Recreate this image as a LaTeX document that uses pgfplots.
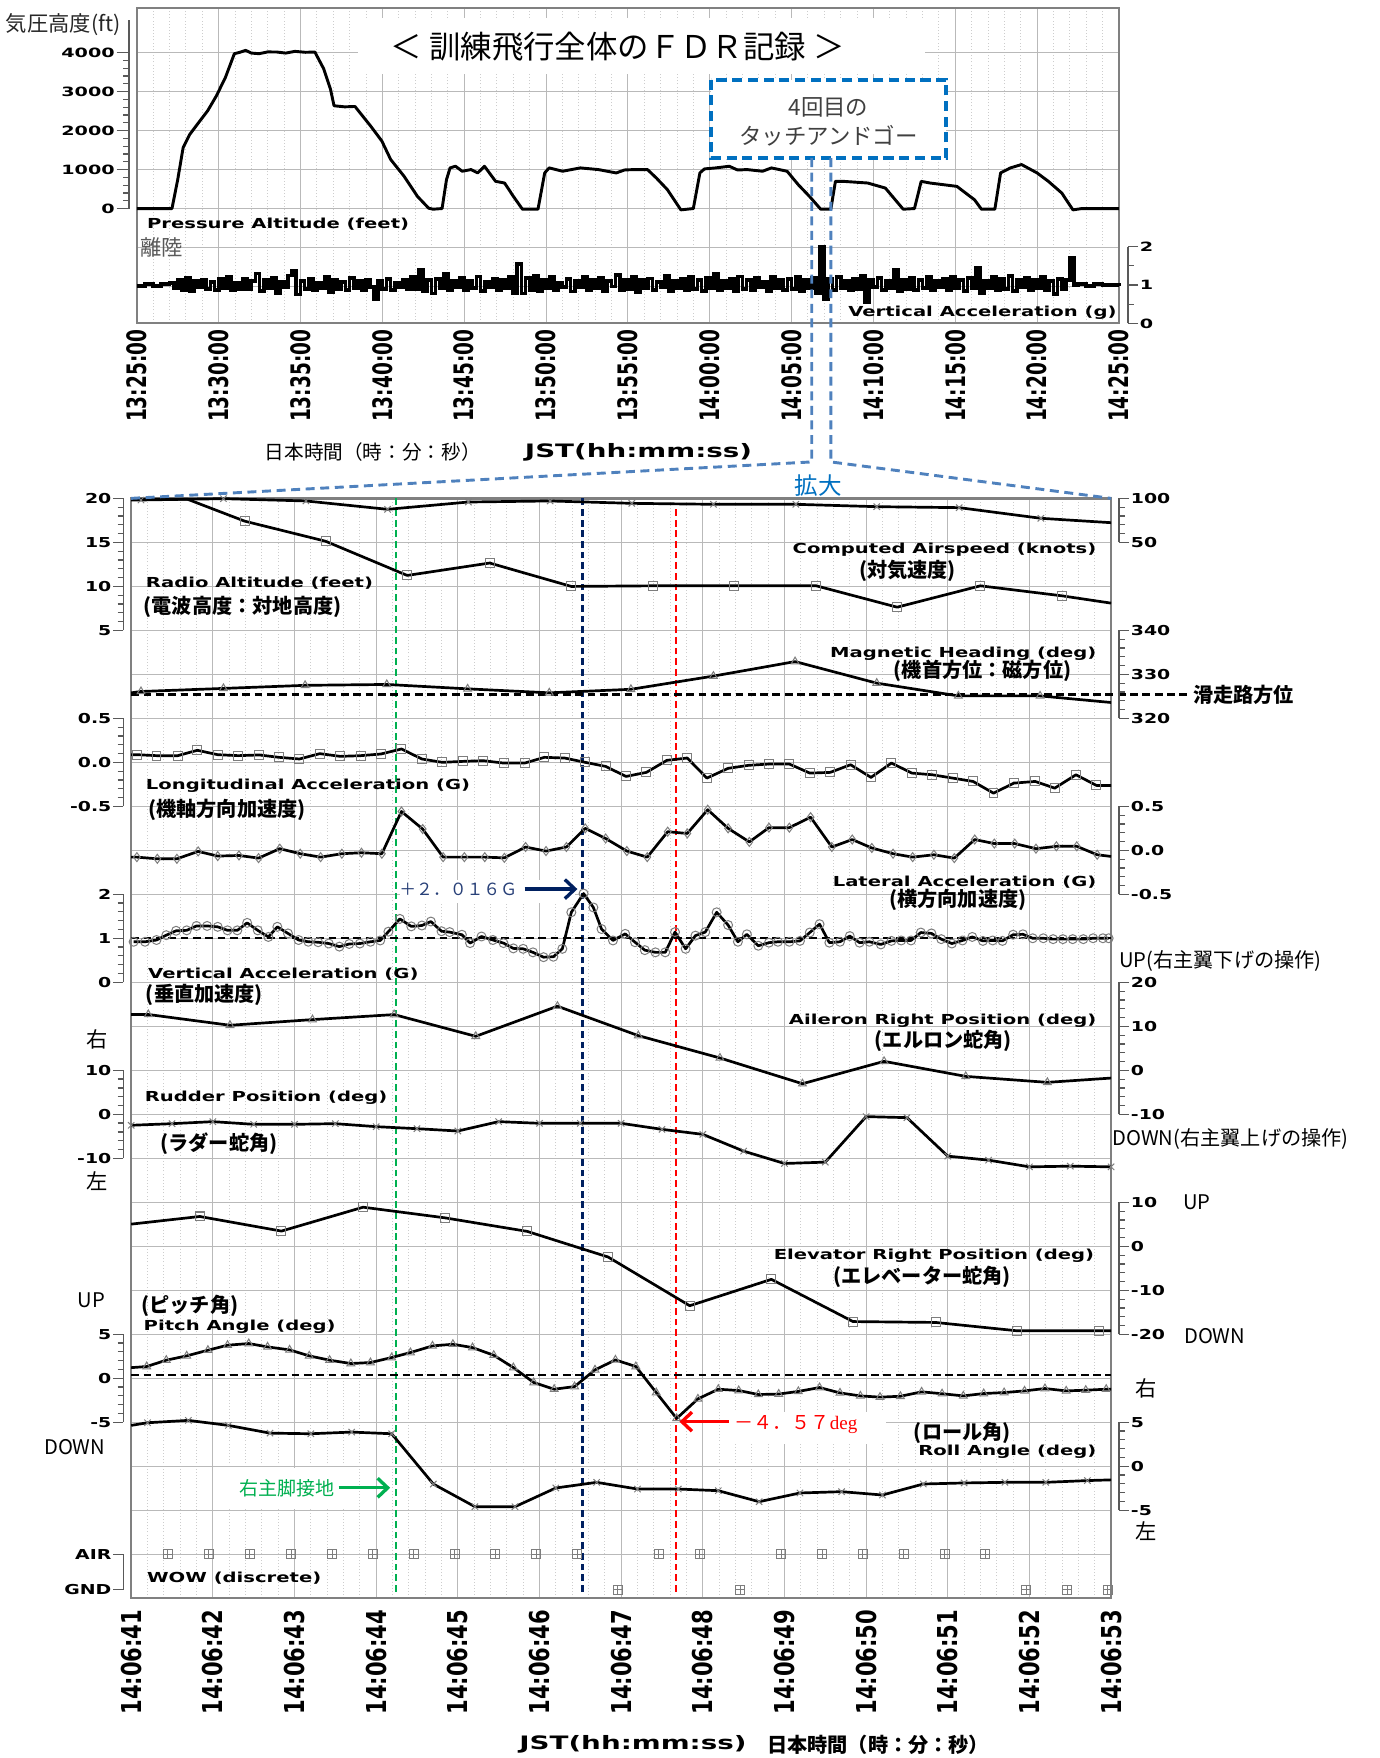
\documentclass[border=0pt]{standalone}
\usepackage{graphicx}
\usepackage{fontspec}
\usepackage{pgfplots}
\pgfplotsset{compat=1.18}
\usetikzlibrary{arrows.meta,plotmarks}
\setmainfont{DejaVu Sans}
\newfontfamily\jp{Noto Sans CJK JP}
\newfontfamily\sr{Liberation Serif}

\definecolor{framec}{RGB}{128,128,128}
\definecolor{gridc}{RGB}{185,185,185}
\definecolor{mgridc}{RGB}{205,205,205}
\definecolor{boxblue}{RGB}{0,112,192}
\definecolor{linkblue}{RGB}{79,129,189}
\definecolor{navyc}{RGB}{0,32,96}
\definecolor{navyt}{RGB}{40,64,120}
\definecolor{grnc}{RGB}{0,176,80}
\definecolor{redc}{RGB}{255,0,0}
\definecolor{mkc}{RGB}{125,125,125}

\newcommand\X[1]{\scalebox{1.42}[1]{#1}}
\newcommand\XT[1]{\scalebox{1.38}[1]{#1}}
\newcommand\XU[1]{\scalebox{1.5}[1]{#1}}
\newcommand\Yt[1]{\scalebox{1}[1.45]{#1}}
\newcommand\Yb[1]{\scalebox{1}[1.3]{#1}}
\newcommand\lbl{\fontsize{12.3}{14}\selectfont\bfseries}
\newcommand\tickf{\fontsize{12.2}{14}\selectfont\bfseries}
\newcommand\ttickf{\fontsize{11.4}{13}\selectfont\bfseries}
\newcommand\ttf{\fontsize{16.5}{18}\selectfont\bfseries}
\newcommand\btf{\fontsize{18.8}{20}\selectfont\bfseries}
\newcommand\axf{\fontsize{16.5}{18}\selectfont\bfseries}
\newcommand\JB{\jp\bfseries\fontsize{18}{20}\selectfont}
\newcommand\JR{\jp\fontsize{18}{20}\selectfont}

\pgfplotsset{
  every axis/.append style={/pgf/number format/assume math mode=true,/pgf/number format/1000 sep={}},
  brk/.style={scale only axis, width=1pt, xmin=0, xmax=1, axis x line=none, xtick=\empty,
    tick align=outside, major tick length=9pt, minor tick length=5pt, clip=false,
    y axis line style={line width=1.1pt, black!65},
    tick style={line width=1.1pt, black!65},
    yticklabel style={font=\tickf, inner sep=1.5pt},
    yticklabel={\XT{\pgfmathprintnumber{\tick}}}},
  brkL/.style={brk, axis y line*=left, anchor=south west},
  brkR/.style={brk, axis y line*=right, anchor=south east},
  ser/.style={scale only axis, width=874pt, xmin=0, xmax=12, hide axis, clip=false, anchor=south west},
  sline/.style={black, line width=2.4pt, line join=round},
  smark/.style={mark options={solid, draw=mkc, fill=none, line width=0.9pt}, mark size=4pt},
}

\begin{document}
\begin{tikzpicture}
\useasboundingbox (0pt,0pt) rectangle (1230pt,-1568pt);

% ================= TOP PANEL =================
\begin{axis}[at={(122pt,-288pt)}, anchor=south west, scale only axis, width=876pt, height=281pt,
  xmin=0, xmax=60, ymin=-2935, ymax=5151,
  xtick={0,5,...,60}, minor x tick num=4,
  ytick={-2000,-1000,0,1000,2000,3000,4000}, yticklabels={},
  grid=both, major grid style={gridc, line width=0.9pt}, minor grid style={mgridc, line width=0.8pt, dotted},
  major tick length=0pt, minor tick length=0pt,
  axis line style={framec, line width=2pt},
  xticklabels={{\Yt{13:25:00}},{\Yt{13:30:00}},{\Yt{13:35:00}},{\Yt{13:40:00}},{\Yt{13:45:00}},{\Yt{13:50:00}},{\Yt{13:55:00}},{\Yt{14:00:00}},{\Yt{14:05:00}},{\Yt{14:10:00}},{\Yt{14:15:00}},{\Yt{14:20:00}},{\Yt{14:25:00}}},
  xticklabel style={rotate=90, anchor=east, font=\ttf, inner sep=1pt}, xticklabel shift=5pt]
\addplot[black, line width=2.6pt, line join=round] coordinates {
(0,0)(2.15,0)(2.5,740)(2.83,1560)(3.24,1905)(3.78,2207)(4.33,2509)(4.87,2897)(5.42,3370)(5.96,3974)
(6.3,4010)(6.65,4060)(7.0,3990)(7.47,3974)(8.0,4020)(8.55,4017)(9.1,3990)(9.66,4034)(10.3,4010)(10.88,4017)
(11.42,3586)(11.83,3069)(12.05,2638)(12.7,2610)(13.33,2620)(14.28,2120)(14.97,1733)(15.51,1259)(16.33,828)
(17.15,310)(17.83,9)(18.1,-17)(18.65,0)(18.92,741)(19.14,1043)(19.47,1086)(19.88,957)(20.42,1000)(20.83,914)
(21.24,1086)(21.92,698)(22.47,655)(23.01,310)(23.56,-17)(24.51,-17)(24.92,914)(25.19,1043)(26.01,957)
(27.1,1043)(28.2,1000)(28.7,960)(29.29,914)(29.8,990)(30.38,1000)(31.2,1000)(31.74,784)(32.42,483)(33.24,-34)
(34.0,0)(34.4,914)(34.68,1017)(35.37,1043)(36.19,1086)(36.7,990)(37.28,1000)(38.23,957)(38.77,1043)(39.73,957)
(40.41,612)(41.1,310)(41.78,-17)(42.4,-17)(42.68,698)(43.15,698)(44.65,655)(45.73,526)(46.82,-17)(47.51,0)
(47.92,698)(48.46,655)(50.1,569)(51.18,224)(51.6,-17)(52.42,-17)(52.77,914)(53.37,1043)(54.05,1129)(55.0,914)
(55.69,698)(56.51,397)(57.19,-34)(57.74,0)(60,0)};
\end{axis}

\begin{scope}[x=1pt,y=-1pt, every node/.style={inner sep=0pt}]
\fill[white] (319,16) rectangle (825,66);
\node at (551,42) {\jp\fontsize{28}{30}\selectfont ＜ 訓練飛行全体のＦＤＲ記録 ＞};
\draw[boxblue, line width=3.5pt, dash pattern=on 9pt off 5pt, fill=white] (634,71) rectangle (844,141);
\node[text=black!75] at (739,96) {\jp\fontsize{20}{22}\selectfont 4回目の};
\node[text=black!75] at (739,121) {\jp\fontsize{20}{22}\selectfont タッチアンドゴー};
\end{scope}

% top vertical acceleration (noisy)
\begin{axis}[scale only axis, width=876pt, height=68.4pt, at={(122pt,-288.4pt)}, anchor=south west,
  xmin=0, xmax=60, ymin=0, ymax=2, hide axis, clip=false]
\addplot[const plot, black, line width=3.4pt] coordinates {
(0,0.98)(0.5,1.02)(1.0,0.97)(1.5,1.03)
(2.0,1.05)(2.25,0.92)(2.5,1.12)(2.75,0.88)(3.0,1.18)(3.25,0.85)(3.5,1.10)(3.75,0.95)(4.0,1.14)(4.25,0.90)
(4.5,1.08)(4.75,0.87)(5.0,1.15)(5.25,0.93)(5.5,1.22)(5.75,0.86)(6.0,1.06)(6.25,0.90)(6.5,1.16)(6.75,0.89)
(7.0,1.10)(7.25,1.30)(7.5,0.84)(7.75,1.12)(8.0,0.92)(8.25,1.18)(8.5,0.80)(8.75,1.08)(9.0,0.95)(9.25,1.25)
(9.5,1.38)(9.75,0.75)(10.0,1.10)(10.25,0.90)(10.5,1.15)(10.75,0.88)(11.0,1.05)(11.25,0.93)(11.5,1.20)(11.75,0.82)
(12.0,1.12)(12.25,0.90)(12.5,1.08)(12.75,0.86)(13.0,1.18)(13.25,0.92)(13.5,1.10)(13.75,0.88)(14.0,1.14)(14.25,0.95)
(14.5,0.62)(14.75,1.10)(15.0,0.90)(15.25,1.16)(15.5,0.87)(15.75,1.05)(16.0,0.94)(16.25,1.12)(16.5,0.89)(16.75,1.20)
(17.0,0.90)(17.25,1.40)(17.5,0.85)(17.75,1.12)(18.0,0.78)(18.25,1.15)(18.5,0.92)(18.75,1.28)(19.0,0.88)(19.25,1.10)
(19.5,0.95)(19.75,1.18)(20.0,0.86)(20.25,1.10)(20.5,0.92)(20.75,1.22)(21.0,0.84)(21.25,1.08)(21.5,0.94)(21.75,1.15)
(22.0,0.88)(22.25,1.12)(22.5,0.93)(22.75,1.20)(23.0,0.80)(23.25,1.55)(23.5,0.78)(23.75,1.18)(24.0,0.86)(24.25,1.24)
(24.5,0.85)(24.75,1.12)(25.0,0.92)(25.25,1.20)(25.5,0.88)(25.75,1.06)(26.0,0.95)(26.25,1.16)(26.5,0.83)(26.75,1.10)
(27.0,0.94)(27.25,1.22)(27.5,0.87)(27.75,1.12)(28.0,0.91)(28.25,1.18)(28.5,0.84)(28.75,1.10)(29.0,0.96)(29.25,1.26)
(29.5,0.86)(29.75,1.14)(30.0,0.90)(30.25,1.20)(30.5,0.82)(30.75,1.12)(31.0,0.93)(31.25,1.17)(31.5,0.88)(31.75,1.08)
(32.0,0.95)(32.25,1.24)(32.5,0.85)(32.75,1.10)(33.0,0.92)(33.25,1.15)(33.5,0.87)(33.75,1.20)(34.0,0.90)(34.25,1.13)
(34.5,0.84)(34.75,1.18)(35.0,0.93)(35.25,1.30)(35.5,0.86)(35.75,1.10)(36.0,0.91)(36.25,1.16)(36.5,0.85)(36.75,1.22)
(37.0,0.90)(37.25,1.12)(37.5,0.88)(37.75,1.18)(38.0,0.94)(38.25,1.08)(38.5,0.83)(38.75,1.20)(39.0,0.92)(39.25,1.14)
(39.5,0.87)(39.75,1.16)(40.0,0.90)(40.25,1.22)(40.5,0.85)(40.75,1.12)(41.0,0.93)(41.25,1.18)(41.5,0.80)(41.75,2.00)
(42.0,0.62)(42.25,1.15)(42.5,0.88)(42.75,1.20)(43.0,0.92)(43.25,1.10)(43.5,0.86)(43.75,1.16)(44.0,0.90)(44.25,1.25)
(44.5,0.55)(44.75,1.12)(45.0,0.94)(45.25,1.18)(45.5,0.88)(45.75,1.10)(46.0,0.92)(46.25,1.40)(46.5,0.85)(46.75,1.12)
(47.0,0.90)(47.25,1.18)(47.5,0.87)(47.75,1.14)(48.0,0.93)(48.25,1.20)(48.5,0.86)(48.75,1.10)(49.0,0.95)(49.25,1.16)
(49.5,0.88)(49.75,1.22)(50.0,0.91)(50.25,1.12)(50.5,0.85)(50.75,1.18)(51.0,0.92)(51.25,1.45)(51.5,0.80)(51.75,1.10)
(52.0,0.93)(52.25,1.20)(52.5,0.87)(52.75,1.15)(53.0,0.90)(53.25,1.24)(53.5,0.84)(53.75,1.12)(54.0,0.95)(54.25,1.18)
(54.5,0.86)(54.75,1.14)(55.0,0.92)(55.25,1.20)(55.5,0.88)(55.75,1.10)(56.0,0.76)(56.25,1.16)(56.5,0.90)(56.75,1.12)
(57.0,1.70)(57.25,1.00)(57.5,1.02)(58.0,0.98)(58.5,1.02)(59.0,0.99)(59.5,1.01)(60,1.0)};
\end{axis}

% top brackets
\begin{axis}[brkL, at={(115pt,-186pt)}, height=168pt, ymin=0, ymax=4834,
  ytick={0,1000,2000,3000,4000}, minor y tick num=4, major tick length=11pt, minor tick length=5pt,
  yticklabel style={font=\ttickf}, yticklabel={\XU{\pgfmathprintnumber{\tick}}}]
\end{axis}
\begin{axis}[brkR, at={(1006pt,-288.4pt)}, height=68.4pt, ymin=0, ymax=2,
  ytick={0,1,2}, minor y tick num=1, major tick length=9pt, minor tick length=5pt,
  yticklabel style={font=\ttickf}, yticklabel={\XU{\pgfmathprintnumber{\tick}}}]
\end{axis}

% ================= BOTTOM PANEL =================
\begin{axis}[at={(117pt,-1425.5pt)}, anchor=south west, scale only axis, width=874pt, height=981pt,
  xmin=0, xmax=12, ymin=0, ymax=25,
  xtick={0,1,...,12}, minor x tick num=4, ytick={0,1,...,25}, yticklabels={},
  grid=both, major grid style={gridc, line width=0.9pt}, minor grid style={mgridc, line width=0.8pt, dotted},
  major tick length=0pt, minor tick length=0pt,
  axis line style={framec, line width=2.2pt},
  xticklabels={{\Yb{14:06:41}},{\Yb{14:06:42}},{\Yb{14:06:43}},{\Yb{14:06:44}},{\Yb{14:06:45}},{\Yb{14:06:46}},{\Yb{14:06:47}},{\Yb{14:06:48}},{\Yb{14:06:49}},{\Yb{14:06:50}},{\Yb{14:06:51}},{\Yb{14:06:52}},{\Yb{14:06:53}}},
  xticklabel style={rotate=90, anchor=east, font=\btf, inner sep=1pt}, xticklabel shift=9pt]
\end{axis}

\begin{scope}[x=1pt,y=-1pt]
\fill[white] (357,785) rectangle (513,805);
\fill[white] (650,1259) rectangle (790,1288);
\fill[white] (196,1309) rectangle (316,1346);
\end{scope}

% event lines
\begin{axis}[ser, at={(117pt,-1425.5pt)}, height=981pt, ymin=0, ymax=25]
\draw[grnc, line width=2pt, dash pattern=on 6pt off 3.5pt] (axis cs:3.243,0.15) -- (axis cs:3.243,25);
\draw[navyc, line width=2pt, dash pattern=on 6pt off 3.5pt] (axis cs:5.527,0.15) -- (axis cs:5.527,25);
\draw[redc, line width=2pt, dash pattern=on 6pt off 3.5pt] (axis cs:6.675,0.15) -- (axis cs:6.675,24.8);
\end{axis}

% Radio altitude
\begin{axis}[ser, at={(117pt,-562.2pt)}, height=117.7pt, ymin=5, ymax=20]
\addplot[sline] coordinates {(0,19.9)(0.69,19.9)(1.39,17.41)(2.38,15.13)(3.38,11.24)(4.39,12.65)(5.39,9.99)(6.39,10.06)(7.38,10.06)(8.39,10.06)(9.38,7.63)(10.4,10.06)(11.4,8.92)(12,8.09)};
\addplot[only marks, mark=square, smark] coordinates {(1.39,17.41)(2.38,15.13)(3.38,11.24)(4.39,12.65)(5.39,9.99)(6.39,10.06)(7.38,10.06)(8.39,10.06)(9.38,7.63)(10.4,10.06)(11.4,8.92)};
\end{axis}
\begin{axis}[brkL, at={(110pt,-562.2pt)}, height=117.7pt, ymin=5, ymax=20, ytick={5,10,15,20}, minor y tick num=4]
\end{axis}

% Airspeed
\begin{axis}[ser, at={(117pt,-483.7pt)}, height=39.24pt, ymin=50, ymax=100]
\addplot[sline] coordinates {(0,98.1)(0.12,98.1)(1.13,99.6)(2.14,97.0)(3.14,87.5)(4.13,95.8)(5.13,97.0)(6.13,94.3)(7.13,93.2)(8.14,93.2)(9.13,90.5)(10.14,89.4)(11.14,77.3)(12,72.3)};
\addplot[only marks, mark=x, smark] coordinates {(0.12,98.1)(1.13,99.6)(2.14,97.0)(3.14,87.5)(4.13,95.8)(5.13,97.0)(6.13,94.3)(7.13,93.2)(8.14,93.2)(9.13,90.5)(10.14,89.4)(11.14,77.3)};
\end{axis}
\begin{axis}[brkR, at={(998pt,-483.7pt)}, height=39.24pt, ymin=50, ymax=100, ytick={50,100}, minor y tick num=4]
\end{axis}

% Heading
\begin{axis}[ser, at={(117pt,-640.7pt)}, height=78.5pt, ymin=320, ymax=340]
\draw[black, line width=2.2pt, dash pattern=on 7pt off 4pt] (axis cs:0,325.45) -- (axis cs:12.96,325.45);
\addplot[sline] coordinates {(0,325.8)(0.12,326.1)(1.13,326.8)(2.13,327.5)(3.13,327.7)(4.12,326.7)(5.12,325.8)(6.12,326.6)(7.13,329.6)(8.13,332.9)(9.13,328.0)(10.13,325.1)(11.13,325.1)(12,323.6)};
\addplot[only marks, mark=triangle, smark] coordinates {(0.12,326.1)(1.13,326.8)(2.13,327.5)(3.13,327.7)(4.12,326.7)(5.12,325.8)(6.12,326.6)(7.13,329.6)(8.13,332.9)(9.13,328.0)(10.13,325.1)(11.13,325.1)};
\end{axis}
\begin{axis}[brkR, at={(998pt,-640.7pt)}, height=78.5pt, ymin=320, ymax=340, ytick={320,330,340}, minor y tick num=4]
\end{axis}

% Longitudinal acceleration
\begin{axis}[ser, at={(117pt,-719.2pt)}, height=78.5pt, ymin=-0.5, ymax=0.5]
\addplot[sline] coordinates {(0,0.087)(0.07,0.087)(0.31,0.076)(0.57,0.076)(0.81,0.137)(1.06,0.087)(1.31,0.076)(1.57,0.084)(1.81,0.057)(2.06,0.038)(2.31,0.099)(2.56,0.068)(2.81,0.076)(3.06,0.095)(3.31,0.152)(3.56,0.038)(3.81,0.0)(4.06,0.011)(4.31,0.019)(4.56,-0.008)(4.82,-0.008)(5.06,0.057)(5.31,0.049)(5.56,0.0)(5.81,-0.046)(6.06,-0.16)(6.31,-0.114)(6.56,0.023)(6.81,0.049)(7.05,-0.179)(7.31,-0.068)(7.56,-0.034)(7.81,-0.019)(8.06,-0.019)(8.31,-0.122)(8.56,-0.114)(8.81,-0.027)(9.06,-0.171)(9.31,-0.008)(9.56,-0.122)(9.81,-0.141)(10.06,-0.179)(10.31,-0.217)(10.56,-0.35)(10.81,-0.236)(11.07,-0.217)(11.31,-0.293)(11.57,-0.141)(11.82,-0.262)(12,-0.262)};
\addplot[only marks, mark=square, smark] coordinates {(0.07,0.087)(0.31,0.076)(0.57,0.076)(0.81,0.137)(1.06,0.087)(1.31,0.076)(1.57,0.084)(1.81,0.057)(2.06,0.038)(2.31,0.099)(2.56,0.068)(2.81,0.076)(3.06,0.095)(3.31,0.152)(3.56,0.038)(3.81,0.0)(4.06,0.011)(4.31,0.019)(4.56,-0.008)(4.82,-0.008)(5.06,0.057)(5.31,0.049)(5.56,0.0)(5.81,-0.046)(6.06,-0.16)(6.31,-0.114)(6.56,0.023)(6.81,0.049)(7.05,-0.179)(7.31,-0.068)(7.56,-0.034)(7.81,-0.019)(8.06,-0.019)(8.31,-0.122)(8.56,-0.114)(8.81,-0.027)(9.06,-0.171)(9.31,-0.008)(9.56,-0.122)(9.81,-0.141)(10.06,-0.179)(10.31,-0.217)(10.56,-0.35)(10.81,-0.236)(11.07,-0.217)(11.31,-0.293)(11.57,-0.141)(11.82,-0.262)};
\end{axis}
\begin{axis}[brkL, at={(110pt,-719.2pt)}, height=78.5pt, ymin=-0.5, ymax=0.5, ytick={-0.5,0,0.5}, minor y tick num=4,
  yticklabel={\XT{\pgfmathprintnumber[fixed,fixed zerofill,precision=1]{\tick}}}]
\end{axis}

% Lateral acceleration
\begin{axis}[ser, at={(117pt,-797.7pt)}, height=78.5pt, ymin=-0.5, ymax=0.5]
\addplot[sline] coordinates {(0,-0.077)(0.07,-0.077)(0.32,-0.096)(0.56,-0.096)(0.82,-0.012)(1.06,-0.065)(1.32,-0.058)(1.56,-0.088)(1.82,0.019)(2.07,-0.038)(2.32,-0.077)(2.58,-0.038)(2.82,-0.027)(3.07,-0.038)(3.31,0.442)(3.57,0.242)(3.82,-0.077)(4.08,-0.077)(4.33,-0.077)(4.57,-0.085)(4.83,0.038)(5.08,-0.008)(5.33,0.038)(5.56,0.25)(5.81,0.135)(6.07,-0.008)(6.32,-0.077)(6.57,0.212)(6.81,0.192)(7.06,0.462)(7.31,0.25)(7.57,0.096)(7.81,0.258)(8.06,0.258)(8.32,0.377)(8.58,0.038)(8.83,0.123)(9.07,0.027)(9.33,-0.038)(9.57,-0.077)(9.83,-0.05)(10.08,-0.088)(10.33,0.123)(10.57,0.077)(10.82,0.077)(11.08,0.019)(11.33,0.046)(11.58,0.046)(11.83,-0.05)(12,-0.069)};
\addplot[only marks, mark=diamond, smark] coordinates {(0.07,-0.077)(0.32,-0.096)(0.56,-0.096)(0.82,-0.012)(1.06,-0.065)(1.32,-0.058)(1.56,-0.088)(1.82,0.019)(2.07,-0.038)(2.32,-0.077)(2.58,-0.038)(2.82,-0.027)(3.07,-0.038)(3.31,0.442)(3.57,0.242)(3.82,-0.077)(4.08,-0.077)(4.33,-0.077)(4.57,-0.085)(4.83,0.038)(5.08,-0.008)(5.33,0.038)(5.56,0.25)(5.81,0.135)(6.07,-0.008)(6.32,-0.077)(6.57,0.212)(6.81,0.192)(7.06,0.462)(7.31,0.25)(7.57,0.096)(7.81,0.258)(8.06,0.258)(8.32,0.377)(8.58,0.038)(8.83,0.123)(9.07,0.027)(9.33,-0.038)(9.57,-0.077)(9.83,-0.05)(10.08,-0.088)(10.33,0.123)(10.57,0.077)(10.82,0.077)(11.08,0.019)(11.33,0.046)(11.58,0.046)(11.83,-0.05)};
\end{axis}
\begin{axis}[brkR, at={(998pt,-797.7pt)}, height=78.5pt, ymin=-0.5, ymax=0.5, ytick={-0.5,0,0.5}, minor y tick num=4,
  yticklabel={\XT{\pgfmathprintnumber[fixed,fixed zerofill,precision=1]{\tick}}}]
\end{axis}

% Vertical acceleration
\begin{axis}[ser, at={(117pt,-876.1pt)}, height=78.5pt, ymin=0, ymax=2]
\draw[black, line width=2.2pt, dash pattern=on 7pt off 4pt] (axis cs:0,1.0) -- (axis cs:12,1.0);
\addplot[sline, mark=o, smark] coordinates {(0.03,0.92)(0.17,0.92)(0.31,0.96)(0.43,1.07)(0.55,1.17)(0.68,1.18)(0.80,1.28)(0.93,1.28)(1.06,1.26)(1.18,1.18)(1.30,1.18)(1.42,1.35)(1.55,1.18)(1.68,1.03)(1.79,1.26)(1.92,1.11)(2.05,0.96)(2.17,0.92)(2.29,0.91)(2.42,0.88)(2.55,0.81)(2.67,0.87)(2.80,0.88)(2.93,0.92)(3.05,0.95)(3.15,1.15)(3.29,1.44)(3.43,1.27)(3.56,1.29)(3.67,1.38)(3.80,1.16)(3.90,1.14)(4.05,1.08)(4.15,0.89)(4.29,1.04)(4.43,0.96)(4.56,0.89)(4.68,0.77)(4.80,0.76)(4.92,0.68)(5.05,0.57)(5.17,0.58)(5.28,0.76)(5.39,1.59)(5.54,2.016)(5.66,1.70)(5.76,1.21)(5.90,0.95)(6.05,1.10)(6.17,0.91)(6.29,0.73)(6.42,0.68)(6.54,0.68)(6.66,1.14)(6.79,0.76)(6.91,1.06)(7.03,1.14)(7.17,1.59)(7.31,1.30)(7.43,0.92)(7.54,1.09)(7.68,0.83)(7.81,0.90)(7.92,0.92)(8.06,0.92)(8.19,0.94)(8.31,1.13)(8.43,1.32)(8.55,0.90)(8.68,0.92)(8.80,1.05)(8.92,0.90)(9.04,0.92)(9.18,0.86)(9.31,0.94)(9.43,0.95)(9.55,0.95)(9.67,1.13)(9.80,1.11)(9.92,0.98)(10.05,0.88)(10.18,0.95)(10.30,1.03)(10.43,0.94)(10.55,0.95)(10.67,0.94)(10.80,1.08)(10.92,1.09)(11.04,1.00)(11.17,1.00)(11.29,0.98)(11.41,0.98)(11.53,0.98)(11.66,0.98)(11.78,1.00)(11.90,1.00)(11.97,1.00)};
\end{axis}
\begin{axis}[brkL, at={(110pt,-876.1pt)}, height=78.5pt, ymin=0, ymax=2, ytick={0,1,2}, minor y tick num=4]
\end{axis}

% Aileron
\begin{axis}[ser, at={(117pt,-993.9pt)}, height=117.7pt, ymin=-10, ymax=20]
\addplot[sline] coordinates {(0,12.7)(0.21,12.7)(1.21,10.25)(2.22,11.54)(3.22,12.68)(4.22,7.74)(5.22,14.58)(6.21,7.9)(7.21,2.81)(8.22,-3.04)(9.22,2.05)(10.22,-1.37)(11.22,-2.73)(12,-1.75)};
\addplot[only marks, mark=triangle, smark] coordinates {(0.21,12.7)(1.21,10.25)(2.22,11.54)(3.22,12.68)(4.22,7.74)(5.22,14.58)(6.21,7.9)(7.21,2.81)(8.22,-3.04)(9.22,2.05)(10.22,-1.37)(11.22,-2.73)};
\end{axis}
\begin{axis}[brkR, at={(998pt,-993.9pt)}, height=117.7pt, ymin=-10, ymax=20, ytick={-10,0,10,20}, minor y tick num=4]
\end{axis}

% Rudder
\begin{axis}[ser, at={(117pt,-1033.1pt)}, height=78.5pt, ymin=-10, ymax=10]
\addplot[sline, mark=x, smark] coordinates {(0,-2.5)(0.5,-2.13)(1.0,-1.67)(1.5,-2.28)(2.0,-2.28)(2.5,-2.13)(3.0,-2.81)(3.5,-3.27)(4.0,-3.8)(4.5,-1.67)(5.0,-2.05)(5.5,-2.05)(6.0,-2.05)(6.5,-3.42)(7.0,-4.56)(7.5,-8.37)(8.0,-11.18)(8.5,-10.87)(9.0,-0.53)(9.5,-0.76)(10.0,-9.51)(10.5,-10.42)(11.0,-11.94)(11.5,-11.79)(12.0,-11.94)};
\end{axis}
\begin{axis}[brkL, at={(110pt,-1033.1pt)}, height=78.5pt, ymin=-10, ymax=10, ytick={-10,0,10}, minor y tick num=4]
\end{axis}

% Elevator
\begin{axis}[ser, at={(117pt,-1190.1pt)}, height=117.7pt, ymin=-20, ymax=10]
\addplot[sline] coordinates {(0,5.05)(0.84,6.79)(1.84,3.47)(2.84,8.9)(3.84,6.49)(4.85,3.4)(5.84,-2.42)(6.84,-13.5)(7.84,-7.5)(8.84,-17.1)(9.85,-17.3)(10.85,-19.2)(11.85,-19.2)(12,-19.2)};
\addplot[only marks, mark=square, smark] coordinates {(0.84,6.79)(1.84,3.47)(2.84,8.9)(3.84,6.49)(4.85,3.4)(5.84,-2.42)(6.84,-13.5)(7.84,-7.5)(8.84,-17.1)(9.85,-17.3)(10.85,-19.2)(11.85,-19.2)};
\end{axis}
\begin{axis}[brkR, at={(998pt,-1190.1pt)}, height=117.7pt, ymin=-20, ymax=10, ytick={-20,-10,0,10}, minor y tick num=4]
\end{axis}

% Pitch
\begin{axis}[ser, at={(117pt,-1268.5pt)}, height=78.5pt, ymin=-5, ymax=5]
\draw[black, line width=2.2pt, dash pattern=on 7pt off 4pt] (axis cs:0,0.35) -- (axis cs:12,0.35);
\addplot[sline] coordinates {(0,1.2)(0.19,1.33)(0.43,2.05)(0.68,2.54)(0.94,3.18)(1.18,3.75)(1.44,3.94)(1.67,3.56)(1.94,3.22)(2.18,2.54)(2.43,2.05)(2.69,1.67)(2.93,1.78)(3.19,2.35)(3.42,2.92)(3.69,3.67)(3.94,3.86)(4.18,3.48)(4.44,2.61)(4.68,1.21)(4.93,-0.49)(5.18,-1.25)(5.43,-0.95)(5.68,0.95)(5.93,2.08)(6.18,1.33)(6.43,-1.63)(6.68,-4.57)(6.94,-2.35)(7.19,-1.25)(7.44,-1.40)(7.68,-1.85)(7.93,-1.80)(8.17,-1.50)(8.43,-1.06)(8.68,-1.67)(8.93,-2.01)(9.17,-2.15)(9.42,-2.05)(9.68,-1.55)(9.93,-1.76)(10.19,-2.01)(10.44,-1.74)(10.69,-1.63)(10.94,-1.44)(11.19,-1.17)(11.45,-1.44)(11.69,-1.36)(11.94,-1.25)(12,-1.25)};
\addplot[only marks, mark=triangle, smark] coordinates {(0.19,1.33)(0.43,2.05)(0.68,2.54)(0.94,3.18)(1.18,3.75)(1.44,3.94)(1.67,3.56)(1.94,3.22)(2.18,2.54)(2.43,2.05)(2.69,1.67)(2.93,1.78)(3.19,2.35)(3.42,2.92)(3.69,3.67)(3.94,3.86)(4.18,3.48)(4.44,2.61)(4.68,1.21)(4.93,-0.49)(5.18,-1.25)(5.43,-0.95)(5.68,0.95)(5.93,2.08)(6.18,1.33)(6.43,-1.63)(6.68,-4.57)(6.94,-2.35)(7.19,-1.25)(7.44,-1.40)(7.68,-1.85)(7.93,-1.80)(8.17,-1.50)(8.43,-1.06)(8.68,-1.67)(8.93,-2.01)(9.17,-2.15)(9.42,-2.05)(9.68,-1.55)(9.93,-1.76)(10.19,-2.01)(10.44,-1.74)(10.69,-1.63)(10.94,-1.44)(11.19,-1.17)(11.45,-1.44)(11.69,-1.36)(11.94,-1.25)};
\end{axis}
\begin{axis}[brkL, at={(110pt,-1268.5pt)}, height=78.5pt, ymin=-5, ymax=5, ytick={-5,0,5}, minor y tick num=4]
\end{axis}

% Roll
\begin{axis}[ser, at={(117pt,-1347pt)}, height=78.5pt, ymin=-5, ymax=5]
\addplot[sline] coordinates {(0,4.64)(0.2,4.94)(0.7,5.21)(1.19,4.64)(1.7,3.76)(2.2,3.69)(2.7,3.88)(3.19,3.69)(3.7,-2.02)(4.21,-4.6)(4.7,-4.6)(5.2,-2.47)(5.7,-1.83)(6.2,-2.59)(6.7,-2.59)(7.19,-2.78)(7.69,-4.03)(8.19,-3.04)(8.7,-2.89)(9.2,-3.27)(9.7,-2.02)(10.2,-1.9)(10.7,-1.83)(11.2,-1.83)(11.71,-1.63)(12,-1.55)};
\addplot[only marks, mark=x, smark] coordinates {(0.2,4.94)(0.7,5.21)(1.19,4.64)(1.7,3.76)(2.2,3.69)(2.7,3.88)(3.19,3.69)(3.7,-2.02)(4.21,-4.6)(4.7,-4.6)(5.2,-2.47)(5.7,-1.83)(6.2,-2.59)(6.7,-2.59)(7.19,-2.78)(7.69,-4.03)(8.19,-3.04)(8.7,-2.89)(9.2,-3.27)(9.7,-2.02)(10.2,-1.9)(10.7,-1.83)(11.2,-1.83)(11.71,-1.63)};
\end{axis}
\begin{axis}[brkR, at={(998pt,-1347pt)}, height=78.5pt, ymin=-5, ymax=5, ytick={-5,0,5}, minor y tick num=4]
\end{axis}

% WOW
\begin{axis}[ser, at={(117pt,-1418pt)}, height=31.7pt, ymin=0, ymax=1]
\addplot[only marks, mark=square, mark options={draw=mkc, line width=0.8pt}, mark size=4pt] coordinates {(0.45,1)(0.95,1)(1.45,1)(1.96,1)(2.46,1)(2.96,1)(3.46,1)(3.96,1)(4.46,1)(4.96,1)(5.46,1)(6.46,1)(6.96,1)(7.96,1)(8.46,1)(8.96,1)(9.46,1)(9.96,1)(10.46,1)(5.96,0)(7.46,0)(10.96,0)(11.46,0)(11.96,0)};
\addplot[only marks, mark=+, mark options={draw=mkc, line width=0.8pt}, mark size=4pt] coordinates {(0.45,1)(0.95,1)(1.45,1)(1.96,1)(2.46,1)(2.96,1)(3.46,1)(3.96,1)(4.46,1)(4.96,1)(5.46,1)(6.46,1)(6.96,1)(7.96,1)(8.46,1)(8.96,1)(9.46,1)(9.96,1)(10.46,1)(5.96,0)(7.46,0)(10.96,0)(11.46,0)(11.96,0)};
\end{axis}
\begin{axis}[brkL, at={(110pt,-1418pt)}, height=31.7pt, ymin=0, ymax=1, ytick={0,1}, yticklabels={\XT{GND},\XT{AIR}}]
\end{axis}

% ================= LABELS =================
\begin{scope}[x=1pt,y=-1pt, every node/.style={inner sep=0pt}]
% top panel texts
\node[anchor=west, text=black!85] at (5,22) {\jp\fontsize{19}{20}\selectfont 気圧高度(ft)};
\node[anchor=west] at (131,200) {\lbl\X{Pressure Altitude (feet)}};
\node[anchor=west, text=black!65] at (125,221) {\jp\fontsize{19}{20}\selectfont 離陸};
\node[anchor=east] at (996,279) {\lbl\X{Vertical Acceleration (g)}};
\node[anchor=west] at (236,403) {\jp\fontsize{17.5}{19}\selectfont 日本時間（時：分：秒）};
\node[anchor=west] at (468,403) {\axf\XU{JST(hh:mm:ss)}};
\node[text=boxblue] at (730,433) {\jp\fontsize{21}{22}\selectfont 拡大};
\draw[linkblue, line width=2.6pt, dash pattern=on 8pt off 5pt] (724,141) -- (724,412) -- (117,444.5);
\draw[linkblue, line width=2.6pt, dash pattern=on 8pt off 5pt] (741,141) -- (741,412) -- (991,444.5);

% bottom panel texts
\node[anchor=east] at (978,490) {\lbl\X{Computed Airspeed (knots)}};
\node[anchor=west] at (766,509) {\JB (対気速度)};
\node[anchor=west] at (130,520) {\lbl\X{Radio Altitude (feet)}};
\node[anchor=west] at (128,541) {\JB (電波高度：対地高度)};
\node[anchor=east] at (978,583) {\lbl\X{Magnetic Heading (deg)}};
\node[anchor=west] at (797,598) {\JB (機首方位：磁方位)};
\node[anchor=west] at (1064,620) {\JB 滑走路方位};
\node[anchor=west] at (130,701) {\lbl\X{Longitudinal Acceleration (G)}};
\node[anchor=west] at (132,722) {\JB (機軸方向加速度)};
\node[anchor=east] at (978,787) {\lbl\X{Lateral Acceleration (G)}};
\node[anchor=west] at (793,803) {\JB (横方向加速度)};
\node[anchor=west] at (132,869) {\lbl\X{Vertical Acceleration (G)}};
\node[anchor=west] at (130,887) {\JB (垂直加速度)};
\node[anchor=west] at (998,857) {\JR UP(右主翼下げの操作)};
\node[anchor=east] at (978,910) {\lbl\X{Aileron Right Position (deg)}};
\node[anchor=west] at (780,928) {\JB (エルロン蛇角)};
\node at (87,927) {\jp\fontsize{19}{20}\selectfont 右};
\node at (87,1053) {\jp\fontsize{19}{20}\selectfont 左};
\node[anchor=west] at (129,979) {\lbl\X{Rudder Position (deg)}};
\node[anchor=west] at (143,1020) {\JB (ラダー蛇角)};
\node[anchor=west] at (992,1016) {\JR DOWN(右主翼上げの操作)};
\node[anchor=west] at (1055,1072) {\JR UP};
\node[anchor=west] at (1056,1192) {\JR DOWN};
\node[anchor=east] at (976,1120) {\lbl\X{Elevator Right Position (deg)}};
\node[anchor=west] at (743,1139) {\JB (エレベーター蛇角)};
\node[anchor=east] at (94,1160) {\JR UP};
\node[anchor=west] at (126,1165) {\JB (ピッチ角)};
\node[anchor=west] at (128,1183) {\lbl\X{Pitch Angle (deg)}};
\node[anchor=east] at (94,1291) {\JR DOWN};
\node at (1022,1238) {\jp\fontsize{19}{20}\selectfont 右};
\node at (1022,1366) {\jp\fontsize{19}{20}\selectfont 左};
\node[anchor=west] at (815,1278) {\JB (ロール角)};
\node[anchor=east] at (978,1295) {\lbl\X{Roll Angle (deg)}};
\node[anchor=west] at (131,1408) {\lbl\X{WOW (discrete)}};
\node[anchor=west] at (463,1556) {\axf\XU{JST(hh:mm:ss)}};
\node[anchor=west] at (684,1556) {\JB 日本時間（時：分：秒）};

% annotations
\node[anchor=west, text=navyt] at (356,793) {\jp\fontsize{15}{16}\selectfont ＋２．０１６Ｇ};
\draw[navyc, line width=3pt, -{Straight Barb[length=9pt,width=17pt]}] (468,793) -- (515,793);
\node[anchor=west, text=redc] at (655,1271) {{\jp\fontsize{17}{18}\selectfont －４．５７}{\sr\fontsize{17}{18}\selectfont deg}};
\draw[redc, line width=3pt, -{Straight Barb[length=9pt,width=17pt]}] (650,1268) -- (606,1268);
\node[anchor=west, text=grnc] at (213,1327) {\jp\fontsize{17}{18}\selectfont 右主脚接地};
\draw[grnc, line width=3pt, -{Straight Barb[length=9pt,width=17pt]}] (302,1327) -- (348,1327);
\end{scope}
\end{tikzpicture}
\end{document}
